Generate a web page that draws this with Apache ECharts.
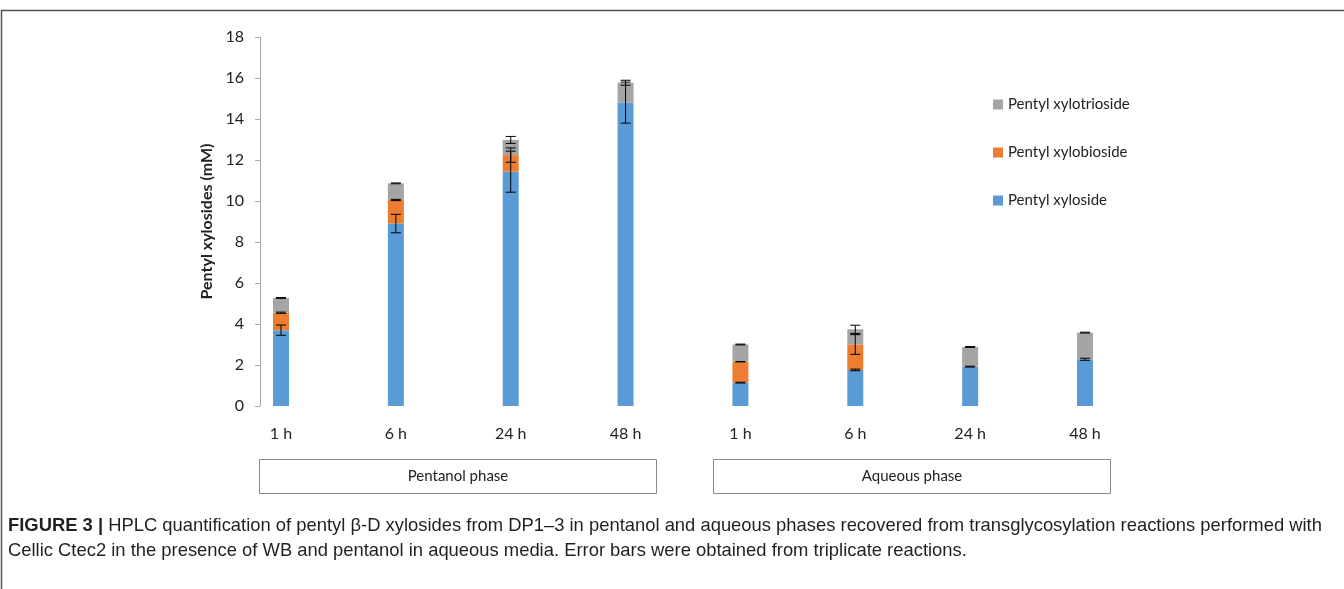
<!DOCTYPE html>
<html>
<head>
<meta charset="utf-8">
<script src="https://cdn.jsdelivr.net/npm/echarts@6/dist/echarts.min.js"></script>
<style>
  html, body { margin: 0; padding: 0; background: #fff; }
  #main { width: 1344px; height: 589px; }
</style>
</head>
<body>
<div id="main"></div>
<script>
// categories (pentanol phase then aqueous phase)
var categories = ['1 h', '6 h', '24 h', '48 h', '1 h', '6 h', '24 h', '48 h'];

// stacked values, mM
var xyloside    = [3.70, 8.90, 11.43, 14.80, 1.14, 1.76, 1.92, 2.28];
var xylobioside = [0.85, 1.15, 0.81, 0.00, 1.02, 1.24, 0.00, 0.00];
var xylotrioside = [0.72, 0.81, 0.74, 0.97, 0.84, 0.74, 0.96, 1.30];

// error bars (+/-)
var errXyloside    = [0.25, 0.45, 1.00, 1.00, 0.02, 0.04, 0.02, 0.05];
var errXylobioside = [0.03, 0.03, 0.35, 0.00, 0.00, 0.48, 0.00, 0.00];
var errXylotrioside = [0.02, 0.02, 0.17, 0.12, 0.02, 0.20, 0.02, 0.02];

var yTicks = { min: 0, max: 18, interval: 2 };

var seriesNames = ['Pentyl xyloside', 'Pentyl xylobioside', 'Pentyl xylotrioside'];
var colors = ['#5b9bd5', '#ed7d31', '#a5a5a5'];

var fontMain = 'Lato, "Open Sans", sans-serif';
var fontCaption = '"Liberation Sans", Arial, sans-serif';

var chart = echarts.init(document.getElementById('main'), null, { renderer: 'canvas' });

// error bar points sit on the cumulative top of each segment
function _getErrData() {
  var temp = [];
  var stacks = [xyloside, xylobioside, xylotrioside];
  var errs = [errXyloside, errXylobioside, errXylotrioside];
  for (var i = 0; i < categories.length; i++) {
    var cum = 0;
    for (var s = 0; s < stacks.length; s++) {
      cum += stacks[s][i];
      if (stacks[s][i] > 0) {
        temp.push([i, cum, errs[s][i]]);
      }
    }
  }
  return temp;
}

function renderErr(params, api) {
  var x = api.value(0);
  var top = api.coord([x, api.value(1) + api.value(2)]);
  var bot = api.coord([x, api.value(1) - api.value(2)]);
  var half = 5;
  var st = { stroke: '#000', lineWidth: 1 };
  return {
    type: 'group',
    children: [
      { type: 'line', shape: { x1: top[0], y1: top[1], x2: bot[0], y2: bot[1] }, style: st },
      { type: 'line', shape: { x1: top[0] - half, y1: top[1], x2: top[0] + half, y2: top[1] }, style: st },
      { type: 'line', shape: { x1: bot[0] - half, y1: bot[1], x2: bot[0] + half, y2: bot[1] }, style: st }
    ]
  };
}

function barSeries(name, data, color) {
  return {
    name: name,
    type: 'bar',
    stack: 'total',
    barWidth: 16,
    clip: false,
    itemStyle: { color: color },
    data: data
  };
}

var option = {
  animation: false,
  backgroundColor: '#fff',
  grid: { left: 281, right: 259, top: 37, bottom: 183 },
  legend: {
    orient: 'vertical',
    left: 988,
    top: 92,
    itemWidth: 10,
    itemHeight: 10,
    itemGap: 33,
    icon: 'rect',
    data: ['Pentyl xylotrioside', 'Pentyl xylobioside', 'Pentyl xyloside'],
    textStyle: { fontFamily: fontMain, fontSize: 15, color: '#222' }
  },
  xAxis: {
    type: 'category',
    data: categories,
    boundaryGap: false,
    axisLine: { show: false },
    axisTick: { show: false },
    axisLabel: { interval: 0, margin: 20, fontFamily: fontMain, fontSize: 16, color: '#222' }
  },
  yAxis: {
    type: 'value',
    min: yTicks.min,
    max: yTicks.max,
    interval: yTicks.interval,
    offset: 21,
    name: 'Pentyl xylosides (mM)',
    nameLocation: 'middle',
    nameGap: 44,
    nameTextStyle: { fontFamily: fontMain, fontSize: 16, fontWeight: 'bold', color: '#222' },
    axisLine: { show: true, lineStyle: { color: '#aaa' } },
    axisTick: { show: true, length: 5, lineStyle: { color: '#aaa' } },
    splitLine: { show: false },
    axisLabel: { margin: 16, fontFamily: fontMain, fontSize: 16, color: '#222' }
  },
  graphic: [
    // figure frame
    { type: 'rect', shape: { x: 1.5, y: 10.5, width: 1400, height: 700 }, style: { fill: 'none', stroke: '#555', lineWidth: 1.5 }, z: 0 },
    // phase boxes
    { type: 'rect', shape: { x: 259.5, y: 459.5, width: 397, height: 34 }, style: { fill: '#fff', stroke: '#888', lineWidth: 1 } },
    { type: 'text', x: 458, y: 476.5, style: { text: 'Pentanol phase', align: 'center', verticalAlign: 'middle', fontFamily: fontMain, fontSize: 15, fill: '#222' } },
    { type: 'rect', shape: { x: 713.5, y: 459.5, width: 397, height: 34 }, style: { fill: '#fff', stroke: '#888', lineWidth: 1 } },
    { type: 'text', x: 912, y: 476.5, style: { text: 'Aqueous phase', align: 'center', verticalAlign: 'middle', fontFamily: fontMain, fontSize: 15, fill: '#222' } },
    // caption
    {
      type: 'text', x: 8, y: 526,
      style: {
        text: '{b|FIGURE 3 |} HPLC quantification of pentyl β-D xylosides from DP1–3 in pentanol and aqueous phases recovered from transglycosylation reactions performed with',
        verticalAlign: 'middle',
        fontFamily: fontCaption, fontSize: 18.4, fill: '#231f20',
        rich: { b: { fontFamily: fontCaption, fontSize: 18.4, fontWeight: 'bold', fill: '#231f20' } }
      }
    },
    {
      type: 'text', x: 8, y: 551,
      style: {
        text: 'Cellic Ctec2 in the presence of WB and pentanol in aqueous media. Error bars were obtained from triplicate reactions.',
        verticalAlign: 'middle',
        fontFamily: fontCaption, fontSize: 18.4, fill: '#231f20'
      }
    }
  ],
  series: [
    barSeries(seriesNames[0], xyloside, colors[0]),
    barSeries(seriesNames[1], xylobioside, colors[1]),
    barSeries(seriesNames[2], xylotrioside, colors[2]),
    {
      name: 'err',
      type: 'custom',
      renderItem: renderErr,
      clip: false,
      z: 10,
      encode: { x: 0, y: 1 },
      data: _getErrData()
    }
  ]
};

chart.setOption(option);
</script>
</body>
</html>
